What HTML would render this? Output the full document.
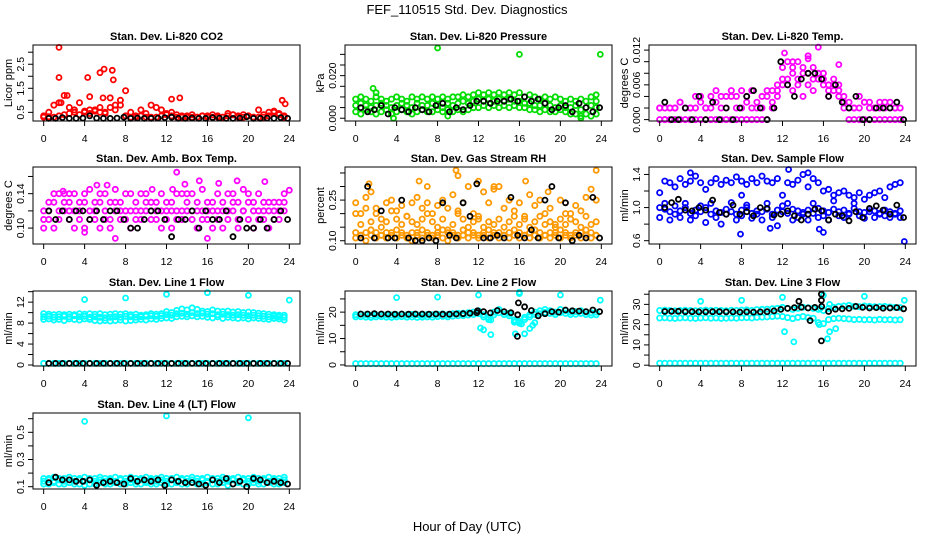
<!DOCTYPE html>
<html><head><meta charset="utf-8"><style>
html,body{margin:0;padding:0;background:#fff;}
svg{display:block;font-family:"Liberation Sans",Arial,sans-serif;}
</style></head><body>
<svg id="chart" width="936" height="540" viewBox="0 0 936 540" xmlns="http://www.w3.org/2000/svg">
<rect width="936" height="540" fill="#fff"/>
<text x="467" y="14" font-size="13" text-anchor="middle">FEF_110515  Std. Dev. Diagnostics</text>
<text x="467" y="531" font-size="13" text-anchor="middle">Hour of Day (UTC)</text>
</svg>
<script>
const co2A=[0.3,0.32,0.3,0.35,0.4,0.45,0.5,0.4,0.55,0.45,0.6,0.5,0.45,0.7,0.6,0.8,0.35,0.3,0.3,0.35,0.3,0.3,0.3,0.35,0.4,0.35,0.3,0.3,0.3,0.3,0.3,0.35,0.3,0.3,0.3,0.3,0.35,0.4,0.3,0.3,0.35,0.3,0.3,0.3,0.35,0.5,0.4,0.3];
const co2B=[0.35,0.5,0.8,0.9,1.2,0.7,0.6,0.9,0.5,0.6,0.55,0.7,0.5,1.1,0.8,1.0,1.4,0.5,0.35,0.6,0.45,0.8,0.7,0.6,0.45,0.5,0.4,0.35,0.35,0.4,0.3,0.35,0.35,0.4,0.35,0.3,0.45,0.4,0.35,0.4,0.35,0.3,0.6,0.4,0.5,0.55,0.45,0.35];
const co2OutH=[1.5,1.5,4.3,5.5,5.9,6.7,6.8,12.5,13.3,23.3,23.6,4.5,5.8,2.3,1.7];
const co2OutV=[3.2,1.95,1.95,2.15,2.3,2.25,1.85,1.05,1.1,1.0,0.85,1.15,1.1,1.2,0.9];
const co2K=[0.25,0.25,0.28,0.25,0.25,0.26,0.35,0.26,0.25,0.25,0.26,0.3,0.25,0.26,0.25,0.25,0.26,0.28,0.3,0.25,0.25,0.26,0.25,0.25,0.28,0.26,0.25,0.25,0.26,0.32,0.25,0.25,0.26,0.25,0.28,0.25];

const presA=[0.003,0.002,0.004,0.003,0.002,0.003,0.004,0.002,0.003,0.004,0.003,0.002,0.003,0.004,0.003,0.003,0.004,0.003,0.004,0.003,0.004,0.003,0.004,0.005,0.005,0.006,0.005,0.006,0.005,0.006,0.005,0.006,0.005,0.005,0.004,0.004,0.003,0.004,0.003,0.003,0.004,0.003,0.002,0.002,0.001,0.002,0.001,0.002];
const presB=[0.009,0.010,0.009,0.008,0.010,0.009,0.008,0.009,0.010,0.009,0.008,0.010,0.009,0.010,0.009,0.010,0.009,0.010,0.009,0.010,0.010,0.011,0.010,0.011,0.012,0.011,0.012,0.011,0.012,0.011,0.012,0.011,0.012,0.010,0.011,0.010,0.009,0.010,0.009,0.010,0.009,0.008,0.009,0.008,0.009,0.008,0.010,0.008];
const presC=[0.006,0.007,0.006,0.005,0.006,0.007,0.006,0.005,0.006,0.007,0.006,0.005,0.007,0.006,0.006,0.007,0.006,0.005,0.007,0.006,0.007,0.008,0.007,0.008,0.009,0.008,0.009,0.008,0.009,0.008,0.009,0.008,0.008,0.007,0.007,0.006,0.006,0.007,0.006,0.005,0.006,0.005,0.005,0.006,0.004,0.005,0.006,0.005];
const presOutH=[8,16,23.9,1.7,3.7,22,23.5,2,9];
const presOutV=[0.033,0.030,0.030,0.014,0.000,0.000,0.011,0.012,0.001];
const presK=[0.005,0.003,0.004,0.006,0.002,0.005,0.004,0.003,0.005,0.004,0.003,0.006,0.007,0.003,0.005,0.004,0.006,0.008,0.008,0.007,0.008,0.008,0.009,0.008,0.010,0.008,0.009,0.007,0.004,0.005,0.006,0.003,0.007,0.005,0.003,0.005];

const tmpA=[0,0,0,0,0,0,0,0,0,0,0,0,0,0,0,0,0,0,0,0,0,0,0.002,0.004,0.006,0.007,0.008,0.007,0.009,0.008,0.007,0.008,0.006,0.005,0.006,0.004,0.002,0,0,0,0,0,0,0,0,0,0,0];
const tmpB=[0.002,0.002,0.002,0.002,0.003,0.002,0.002,0.002,0.004,0.002,0.002,0.003,0.002,0.002,0.004,0.002,0.002,0.003,0.002,0.002,0.002,0.004,0.005,0.006,0.009,0.010,0.009,0.010,0.008,0.011,0.009,0.007,0.008,0.006,0.005,0.006,0.004,0.002,0.002,0.002,0.003,0.002,0.002,0.002,0.003,0.002,0.002,0.002];
const tmpC=[0.002,0,0.002,0.002,0.003,0.002,0.002,0.004,0.003,0.002,0.004,0.005,0.004,0.004,0.005,0.004,0.005,0.004,0.005,0.003,0.004,0.005,0.003,0.005,0.007,0.006,0.005,0.006,0.004,0.006,0.005,0.008,0.007,0.004,0.007,0.005,0.003,0.003,0.002,0.004,0.003,0.003,0.002,0.003,0.002,0.003,0.002,0];
const tmpOutH=[15.5,12.2,13,14.5,17.5];
const tmpOutV=[0.0125,0.0115,0.0100,0.0105,0.0095];
const tmpK=[0.003,0,0,0.002,0,0.004,0,0.003,0,0.002,0,0.002,0.004,0.005,0.002,0,0.002,0.010,0.006,0.004,0.007,0.008,0.008,0.007,0.004,0.006,0.003,0.002,0.004,0,0,0.002,0.002,0.002,0.003,0];

const ambA=[0.12,0.11,0.13,0.12,0.14,0.11,0.12,0.13,0.10,0.12,0.11,0.13,0.12,0.11,0.12,0.13,0.11,0.12,0.13,0.12,0.14,0.12,0.13,0.12,0.11,0.13,0.12,0.14,0.12,0.11,0.13,0.12,0.11,0.13,0.12,0.12,0.14,0.12,0.13,0.12,0.11,0.13,0.12,0.11,0.12,0.13,0.11,0.12];
const ambB=[0.10,0.13,0.10,0.14,0.12,0.13,0.14,0.11,0.13,0.145,0.13,0.10,0.14,0.10,0.145,0.12,0.14,0.10,0.11,0.14,0.12,0.13,0.11,0.14,0.13,0.10,0.14,0.11,0.13,0.14,0.10,0.145,0.13,0.10,0.14,0.13,0.11,0.14,0.10,0.145,0.13,0.10,0.14,0.13,0.10,0.11,0.13,0.14];
const ambC=[0.11,0.12,0.14,0.11,0.13,0.12,0.10,0.12,0.14,0.11,0.12,0.14,0.11,0.13,0.13,0.11,0.12,0.14,0.12,0.11,0.13,0.11,0.12,0.10,0.12,0.12,0.11,0.12,0.14,0.12,0.12,0.11,0.12,0.12,0.11,0.10,0.12,0.13,0.11,0.12,0.14,0.12,0.11,0.12,0.13,0.12,0.12,0.13];
const ambOutH=[13,15.2,18.9,21.6,5.2,6.2,17.1,13.8,2.5,12.6,7,24,16,4,1.9,10.6];
const ambOutV=[0.165,0.155,0.155,0.154,0.150,0.150,0.152,0.151,0.140,0.145,0.088,0.144,0.088,0.095,0.143,0.145];
const ambK=[0.12,0.11,0.12,0.11,0.12,0.12,0.11,0.12,0.11,0.12,0.12,0.11,0.10,0.10,0.11,0.12,0.12,0.11,0.09,0.11,0.11,0.12,0.10,0.12,0.11,0.11,0.12,0.09,0.11,0.10,0.10,0.11,0.10,0.11,0.12,0.11];

const rhA=[0.11,0.12,0.10,0.12,0.11,0.12,0.11,0.12,0.11,0.12,0.11,0.10,0.12,0.11,0.12,0.11,0.12,0.11,0.10,0.12,0.11,0.12,0.11,0.12,0.11,0.12,0.11,0.12,0.11,0.12,0.11,0.12,0.11,0.12,0.11,0.12,0.11,0.12,0.11,0.12,0.11,0.12,0.11,0.12,0.11,0.12,0.11,0.12];
const rhB=[0.13,0.12,0.13,0.14,0.13,0.12,0.13,0.13,0.14,0.13,0.12,0.13,0.13,0.14,0.13,0.12,0.13,0.14,0.13,0.13,0.12,0.14,0.13,0.13,0.12,0.13,0.14,0.13,0.13,0.12,0.13,0.14,0.13,0.12,0.13,0.14,0.13,0.12,0.13,0.13,0.14,0.13,0.12,0.13,0.13,0.14,0.13,0.12];
const rhC=[0.24,0.20,0.26,0.28,0.22,0.18,0.24,0.25,0.21,0.23,0.19,0.24,0.26,0.22,0.24,0.20,0.23,0.25,0.22,0.27,0.21,0.24,0.30,0.20,0.18,0.28,0.24,0.29,0.30,0.22,0.25,0.21,0.24,0.19,0.27,0.23,0.25,0.20,0.22,0.16,0.25,0.20,0.18,0.23,0.21,0.26,0.29,0.25];
const rhD=[0.20,0.16,0.22,0.17,0.20,0.15,0.17,0.21,0.18,0.16,0.19,0.17,0.16,0.18,0.20,0.17,0.15,0.18,0.14,0.16,0.20,0.18,0.15,0.17,0.19,0.15,0.17,0.16,0.18,0.15,0.17,0.19,0.16,0.18,0.15,0.17,0.19,0.16,0.17,0.15,0.18,0.16,0.20,0.17,0.15,0.19,0.16,0.17];
const rhOutH=[9.8,23.5,10,12,1.3,6.2,16.6,7,13.5,18.8];
const rhOutV=[0.36,0.36,0.34,0.32,0.31,0.32,0.32,0.30,0.30,0.28];
const rhK=[0.11,0.30,0.11,0.21,0.11,0.11,0.25,0.11,0.10,0.10,0.11,0.10,0.24,0.12,0.11,0.24,0.19,0.31,0.11,0.11,0.12,0.11,0.26,0.12,0.11,0.14,0.11,0.25,0.30,0.11,0.24,0.10,0.12,0.11,0.26,0.11];

const flowA=[1.18,1.32,1.30,1.25,1.35,1.28,1.32,1.38,1.30,1.22,1.30,1.35,1.28,1.33,1.30,1.37,1.32,1.28,1.35,1.30,1.38,1.32,1.30,1.35,1.15,1.30,1.28,1.33,1.40,1.25,1.35,1.30,1.20,1.22,1.15,1.18,1.20,1.15,1.12,1.18,1.10,1.15,1.18,1.20,1.12,1.25,1.28,1.30];
const flowB=[1.0,0.98,0.95,0.92,0.96,1.0,0.93,0.97,0.95,1.0,0.92,0.96,0.94,0.98,0.95,0.92,0.97,1.0,0.93,0.96,0.95,0.98,0.92,0.97,0.95,0.93,0.98,0.96,0.94,0.97,0.93,0.99,0.96,0.94,0.98,0.95,0.97,0.93,0.99,0.95,0.94,0.98,0.96,0.93,0.97,0.95,0.93,0.96];
const flowC=[0.88,1.05,0.85,1.02,0.88,1.05,0.85,0.90,1.02,0.82,1.05,0.88,0.80,0.92,1.06,0.85,0.90,1.03,0.87,0.92,0.85,1.05,0.88,0.78,1.02,1.05,0.85,0.88,0.92,0.85,1.05,0.88,0.90,0.85,1.08,0.90,0.88,0.92,1.05,0.90,0.87,0.95,0.88,0.92,0.90,0.88,0.92,0.88];
const flowOutH=[7.9,16,23.9,12.6,8,10.8,15.6,3,14.5];
const flowOutV=[0.68,0.70,0.59,1.46,1.15,0.75,0.74,1.42,1.42];
const flowK=[1.0,1.06,1.1,0.97,0.96,1.0,0.97,1.09,0.94,0.92,1.03,0.92,0.95,0.90,1.0,0.99,0.91,0.92,0.96,0.90,0.85,0.92,0.98,0.96,0.85,0.92,0.90,0.84,0.95,0.88,0.99,1.02,0.97,0.92,1.03,0.88];

const l1A=[9.8,9.7,9.6,9.7,9.6,9.7,9.6,9.8,9.7,9.8,9.7,9.8,9.6,9.7,9.8,9.7,9.8,9.6,9.7,9.5,9.6,9.8,9.7,9.8,10.2,10.0,10.4,10.7,10.5,10.9,10.6,10.3,10.2,10.5,10.3,10.2,10.3,10.1,10.2,10.0,10.1,10.0,9.9,9.8,9.7,9.6,9.5,9.5];
const l1B=[8.7,8.8,8.6,8.7,8.5,8.8,8.7,8.6,8.8,8.7,8.5,8.4,8.5,8.4,8.5,8.6,8.4,8.5,8.6,8.7,8.6,8.8,8.7,8.9,9.0,8.9,9.2,9.3,9.2,9.4,9.2,9.3,9.1,9.0,9.2,8.9,9.1,9.0,8.9,9.0,8.8,9.0,8.9,8.8,8.7,8.9,8.8,8.6];
const l1C=[9.2,9.3,9.1,9.2,9.3,9.2,9.4,9.2,9.3,9.1,9.2,9.1,9.0,9.1,9.2,9.1,9.3,9.2,9.1,9.2,9.3,9.4,9.3,9.4,9.6,9.5,9.8,9.9,9.7,10.0,9.8,9.9,9.7,9.8,9.6,9.7,9.6,9.5,9.6,9.5,9.4,9.5,9.4,9.3,9.2,9.3,9.2,9.1];
const l1Z=[0.3,0.3,0.3,0.3,0.3,0.3,0.3,0.3,0.3,0.3,0.3,0.3,0.3,0.3,0.3,0.3,0.3,0.3,0.3,0.3,0.3,0.3,0.3,0.3,0.3,0.3,0.3,0.3,0.3,0.3,0.3,0.3,0.3,0.3,0.3,0.3,0.3,0.3,0.3,0.3,0.3,0.3,0.3,0.3,0.3,0.3,0.3,0.3];
const l1OutH=[4,8,12,16,20,24];
const l1OutV=[12.5,12.8,13.5,13.8,13.3,12.4];
const l1K=[0.3,0.3,0.3,0.3,0.3,0.3,0.3,0.3,0.3,0.3,0.3,0.3,0.3,0.3,0.3,0.3,0.3,0.3,0.3,0.3,0.3,0.3,0.3,0.3,0.3,0.3,0.3,0.3,0.3,0.3,0.3,0.3,0.3,0.3,0.3,0.3];

const l2A=[19,19.2,19,18.8,19,19.1,19,18.9,19,19.2,19,19.1,19,18.9,19.1,19,19.2,19.3,19,19.4,19.5,19.6,19.8,20,20.5,19,18,20,21,20,19.5,17,16.5,18,19,20,20.5,21,20.5,20,21,20.5,20,20.2,20.5,20,19.8,20];
const l2B=[18.2,18.3,18.1,18.0,18.2,18.3,18.1,18.0,18.2,18.3,18.1,18.2,18.0,18.1,18.2,18.1,18.3,18.4,18.2,18.5,18.6,18.7,18.9,19.1,19.4,18.2,17.2,19.0,19.8,19.1,18.6,16.2,15.8,17.2,18.2,19.1,19.4,19.9,19.5,19.1,19.8,19.5,19.1,19.2,19.5,19.1,18.9,19.0];
const l2Z=[0.5,0.5,0.5,0.5,0.5,0.5,0.5,0.5,0.5,0.5,0.5,0.5,0.5,0.5,0.5,0.5,0.5,0.5,0.5,0.5,0.5,0.5,0.5,0.5,0.5,0.5,0.5,0.5,0.5,0.5,0.5,0.5,0.5,0.5,0.5,0.5,0.5,0.5,0.5,0.5,0.5,0.5,0.5,0.5,0.5,0.5,0.5,0.5];
const l2OutH=[4,8,12,12.2,12.5,13.2,13.2,15.6,16,16.2,16.5,16,17,17.3,17.5,20,23.9,15.6];
const l2OutV=[25.5,25.7,26.5,14,13.3,11.5,17,11.8,27,15.5,11.8,27.5,13.8,15,16,26.5,24.5,16.5];
const l2K=[19.3,19.3,19.4,19.3,19.3,19.2,19.3,19.2,19.3,19.3,19.2,19.3,19.2,19.2,19.3,19.4,19.6,19.8,20.2,19.7,20.6,20.2,19.8,19.0,22.0,20.6,18.6,19.4,20.2,20.0,20.8,20.5,20.4,20.2,20.8,20.2];
const l2KOutH=[15.9,15.8,11.9];
const l2KOutV=[23.5,10.8,20.5];

const l3A=[27,27.2,27,26.8,27,27.1,27,26.9,27,27.2,27,27.1,27,26.9,27.1,27,27.2,27.3,27,27.4,27.5,27.6,27.8,28,28.5,28,27.5,28,28.6,28.3,28,27.5,27,28,28.5,29,29.2,29.5,29,28.8,29.2,29,28.8,28.9,29,28.7,28.5,28.4];
const l3B=[23.3,23.4,23.2,23.1,23.3,23.4,23.2,23.1,23.3,23.4,23.2,23.3,23.1,23.2,23.3,23.2,23.4,23.5,23.3,23.6,23.7,23.8,24.0,24.2,24.0,23.5,23.0,23.6,24.0,23.5,23.2,21.0,20.5,22.5,23.0,23.2,23.0,22.8,22.5,22.6,22.4,22.5,22.3,22.6,22.4,22.5,22.3,22.4];
const l3Z=[1,1,1,1,1,1,1,1,1,1,1,1,1,1,1,1,1,1,1,1,1,1,1,1,1,1,1,1,1,1,1,1,1,1,1,1,1,1,1,1,1,1,1,1,1,1,1,1];
const l3OutH=[4,8,12,12.2,13.1,15.6,16,16.4,16.6,17.2,20,23.9,15.7,16.6];
const l3OutV=[31.5,32,33.5,16.5,11.5,20,34.5,13,16.5,18,34,32,28,30];
const l3K=[26.5,26.6,26.6,26.4,26.4,26.3,26.3,26.4,26.4,26.3,26.3,26.2,26.3,26.2,26.3,26.4,26.8,27.5,28,28.4,28.6,28.2,28.5,29.0,26.5,27.6,27.8,28.0,29.0,28.5,28.2,28.4,28.1,28.2,28.4,27.8];
const l3KOutH=[15.8,15.8,15.8,14.7,13.6];
const l3KOutV=[35,32,12,22,31.5];

const l4A=[0.14,0.15,0.14,0.15,0.14,0.15,0.14,0.15,0.14,0.15,0.14,0.15,0.14,0.15,0.14,0.15,0.14,0.15,0.14,0.15,0.14,0.15,0.14,0.15,0.14,0.15,0.14,0.15,0.14,0.15,0.14,0.15,0.14,0.15,0.14,0.15,0.14,0.15,0.14,0.15,0.14,0.15,0.14,0.15,0.14,0.15,0.14,0.15];
const l4B=[0.12,0.12,0.13,0.12,0.12,0.13,0.12,0.12,0.11,0.12,0.12,0.13,0.12,0.12,0.13,0.12,0.12,0.13,0.12,0.12,0.13,0.12,0.12,0.13,0.12,0.12,0.13,0.12,0.12,0.13,0.12,0.12,0.13,0.12,0.12,0.13,0.11,0.12,0.13,0.12,0.12,0.13,0.12,0.12,0.13,0.12,0.12,0.13];
const l4C=[0.16,0.16,0.17,0.16,0.16,0.17,0.16,0.16,0.17,0.16,0.16,0.17,0.16,0.16,0.17,0.16,0.16,0.17,0.16,0.16,0.17,0.16,0.16,0.17,0.16,0.16,0.17,0.16,0.16,0.17,0.16,0.16,0.17,0.16,0.16,0.17,0.16,0.16,0.17,0.16,0.16,0.17,0.16,0.16,0.17,0.16,0.16,0.17];
const l4OutH=[4,12,20];
const l4OutV=[0.58,0.62,0.607];
const l4K=[0.13,0.17,0.15,0.15,0.14,0.14,0.15,0.11,0.13,0.14,0.13,0.12,0.16,0.14,0.15,0.14,0.15,0.11,0.15,0.14,0.13,0.13,0.12,0.11,0.15,0.13,0.16,0.12,0.14,0.10,0.16,0.15,0.13,0.14,0.13,0.12];

const hours48=[];for(let i=0;i<48;i++)hours48.push(i*0.5);
const hours36=[];for(let i=0;i<36;i++)hours36.push(i*2/3);

const colsX=[[33,300],[345,612],[649,916]];
const rowsY=[[45,121],[167,244],[291,366],[413,489]];

const panels=[
 {name:'co2',title:'Stan. Dev. Li-820 CO2',ylab:'Licor ppm',c:0,r:0,ymin:0.14,ymax:3.3,ticks:[0.5,1,1.5,2,2.5,3],labels:[0.5,1.5,2.5],fmt:v=>v.toFixed(1),color:'#ff0000',series:[co2A,co2B],oh:co2OutH,ov:co2OutV,k:co2K},
 {name:'pressure',title:'Stan. Dev. Li-820 Pressure',ylab:'kPa',c:1,r:0,ymin:-0.0013,ymax:0.0344,ticks:[0,0.005,0.01,0.015,0.02,0.025,0.03],labels:[0,0.02],fmt:v=>v.toFixed(3),color:'#00dd00',series:[presA,presB,presC],oh:presOutH,ov:presOutV,k:presK},
 {name:'li820-temp',title:'Stan. Dev. Li-820 Temp.',ylab:'degrees C',c:2,r:0,ymin:-0.00024,ymax:0.01288,ticks:[0,0.002,0.004,0.006,0.008,0.01,0.012],labels:[0,0.006,0.012],fmt:v=>v.toFixed(3),color:'#ff00ff',series:[tmpA,tmpB,tmpC],oh:tmpOutH,ov:tmpOutV,k:tmpK},
 {name:'amb-box-temp',title:'Stan. Dev. Amb. Box Temp.',ylab:'degrees C',c:0,r:1,ymin:0.0815,ymax:0.171,ticks:[0.1,0.12,0.14,0.16],labels:[0.1,0.14],fmt:v=>v.toFixed(2),color:'#ff00ff',series:[ambA,ambB,ambC],oh:ambOutH,ov:ambOutV,k:ambK},
 {name:'gas-rh',title:'Stan. Dev. Gas Stream RH',ylab:'percent',c:1,r:1,ymin:0.088,ymax:0.372,ticks:[0.1,0.15,0.2,0.25,0.3,0.35],labels:[0.1,0.25],fmt:v=>v.toFixed(2),color:'#ff9900',series:[rhA,rhB,rhD,rhC],oh:rhOutH,ov:rhOutV,k:rhK},
 {name:'sample-flow',title:'Stan. Dev. Sample Flow',ylab:'ml/min',c:2,r:1,ymin:0.56,ymax:1.49,ticks:[0.6,0.8,1,1.2,1.4],labels:[0.6,1,1.4],fmt:v=>v.toFixed(1),color:'#0000ff',series:[flowA,flowB,flowC],oh:flowOutH,ov:flowOutV,k:flowK},
 {name:'line1-flow',title:'Stan. Dev. Line 1 Flow',ylab:'ml/min',c:0,r:2,ymin:-0.19,ymax:14.13,ticks:[0,2,4,6,8,10,12,14],labels:[0,4,8,12],fmt:v=>String(v),color:'#00ffff',series:[l1A,l1B,l1C,l1Z],oh:l1OutH,ov:l1OutV,k:l1K},
 {name:'line2-flow',title:'Stan. Dev. Line 2 Flow',ylab:'ml/min',c:1,r:2,ymin:-0.4,ymax:28.0,ticks:[0,5,10,15,20,25],labels:[0,10,20],fmt:v=>String(v),color:'#00ffff',series:[l2A,l2B,l2Z],oh:l2OutH,ov:l2OutV,k:l2K,kh:l2KOutH,kv:l2KOutV},
 {name:'line3-flow',title:'Stan. Dev. Line 3 Flow',ylab:'ml/min',c:2,r:2,ymin:-0.4,ymax:36.6,ticks:[0,5,10,15,20,25,30,35],labels:[0,10,20,30],fmt:v=>String(v),color:'#00ffff',series:[l3A,l3B,l3Z],oh:l3OutH,ov:l3OutV,k:l3K,kh:l3KOutH,kv:l3KOutV},
 {name:'line4-flow',title:'Stan. Dev. Line 4 (LT) Flow',ylab:'ml/min',c:0,r:3,ymin:0.083,ymax:0.642,ticks:[0.1,0.2,0.3,0.4,0.5,0.6],labels:[0.1,0.3,0.5],fmt:v=>String(v),color:'#00ffff',series:[l4A,l4B,l4C],oh:l4OutH,ov:l4OutV,k:l4K}
];

const NS='http://www.w3.org/2000/svg';
const svg=document.getElementById('chart');
function mk(tag,attrs,parent){const e=document.createElementNS(NS,tag);for(const k in attrs)e.setAttribute(k,attrs[k]);(parent||svg).appendChild(e);return e;}

panels.forEach(p=>{
  const [x0,x1]=colsX[p.c],[y0,y1]=rowsY[p.r];
  const pad=(x1-x0)*0.04;
  const xs=h=>x0+pad+(h/24)*(x1-x0-2*pad);
  const ys=v=>y1-(v-p.ymin)/(p.ymax-p.ymin)*(y1-y0);
  const g=mk('g',{});
  
  
  const t=mk('text',{x:(x0+x1)/2,y:y0-5,'font-size':11,'font-weight':'bold','text-anchor':'middle'},g);
  t.textContent=p.title;
  
  
  const yl=mk('text',{x:0,y:0,'font-size':11,'text-anchor':'middle',transform:`translate(${x0-21},${(y0+y1)/2}) rotate(-90)`},g);
  yl.textContent=p.ylab;
  
  
  const pts=mk('g',{fill:'none','stroke-width':1.8},g);
  
  
  p.series.forEach(arr=>{
    arr.forEach((v,i)=>{
      const c=mk('circle',{cx:xs(hours48[i]).toFixed(1),cy:ys(v).toFixed(1),r:2.6,stroke:p.color},pts);
      
      
    });
  });
  p.oh.forEach((h,i)=>{
    const c=mk('circle',{cx:xs(h).toFixed(1),cy:ys(p.ov[i]).toFixed(1),r:2.5,stroke:p.color},pts);
    
    
  });
  p.k.forEach((v,i)=>{
    const c=mk('circle',{cx:xs(hours36[i]+0.5).toFixed(1),cy:ys(v).toFixed(1),r:2.5,stroke:'#000'},pts);
    
    
  });
  if(p.kh)p.kh.forEach((h,i)=>{
    const c=mk('circle',{cx:xs(h).toFixed(1),cy:ys(p.kv[i]).toFixed(1),r:2.5,stroke:'#000'},pts);
    
    
  });
  const b=mk('rect',{x:x0,y:y0,width:x1-x0,height:y1-y0,fill:'none',stroke:'#000','stroke-width':1},g);
  
  
  [0,4,8,12,16,20,24].forEach(h=>{
    const x=xs(h);
    mk('line',{x1:x,x2:x,y1:y1,y2:y1+5,stroke:'#000'},g);
    const tl=mk('text',{x:x,y:y1+21,'font-size':10.5,'text-anchor':'middle'},g);
    tl.textContent=String(h);
    
    
  });
  p.ticks.forEach(v=>{
    const y=ys(v);
    mk('line',{x1:x0-5,x2:x0,y1:y,y2:y,stroke:'#000'},g);
  });
  p.labels.forEach(v=>{
    const y=ys(v);
    const tl=mk('text',{x:0,y:0,'font-size':10.5,'text-anchor':'middle',transform:`translate(${x0-9},${y}) rotate(-90)`},g);
    tl.textContent=p.fmt(v);
    
    
  });
});
</script>
</body></html>
